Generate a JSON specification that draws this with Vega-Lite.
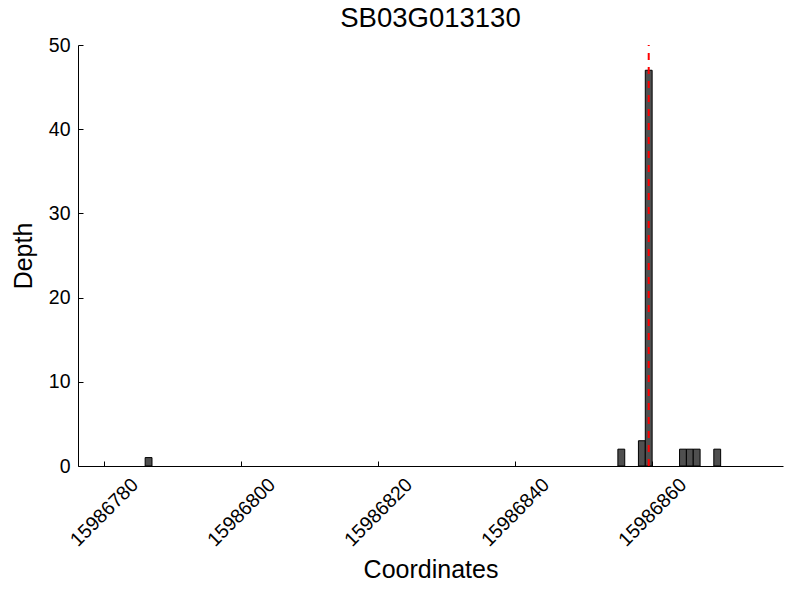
{
  "$schema": "https://vega.github.io/schema/vega-lite/v6.json",
  "width": 705,
  "height": 421,
  "autosize": {"type": "none"},
  "padding": {"left": 78, "top": 45, "right": 17, "bottom": 134},
  "background": "white",
  "config": {
    "view": {"stroke": null},
    "font": "Liberation Sans",
    "axis": {
      "domainColor": "black",
      "tickColor": "black",
      "labelColor": "black",
      "titleColor": "black",
      "grid": false,
      "labelFont": "Liberation Sans",
      "titleFont": "Liberation Sans",
      "titleFontWeight": "normal",
      "labelFontSize": 19.5,
      "titleFontSize": 25,
      "tickSize": -5,
      "domainWidth": 1
    }
  },
  "title": {
    "text": "SB03G013130",
    "fontSize": 27.5,
    "fontWeight": "normal",
    "font": "Liberation Sans",
    "color": "black",
    "offset": 3
  },
  "datasets": {
    "bars": [
      {"start": 15986786, "end": 15986787, "depth": 1},
      {"start": 15986855, "end": 15986856, "depth": 2},
      {"start": 15986858, "end": 15986859, "depth": 3},
      {"start": 15986859, "end": 15986860, "depth": 47},
      {"start": 15986864, "end": 15986865, "depth": 2},
      {"start": 15986865, "end": 15986866, "depth": 2},
      {"start": 15986866, "end": 15986867, "depth": 2},
      {"start": 15986869, "end": 15986870, "depth": 2}
    ],
    "marker": [{"pos": 15986859.5, "y0": 0, "y1": 50}]
  },
  "layer": [
    {
      "data": {"name": "bars"},
      "mark": {"type": "rect", "fill": "#4f4f4f", "stroke": "black", "strokeWidth": 1},
      "encoding": {
        "x": {
          "field": "start",
          "type": "quantitative",
          "scale": {"domain": [15986776.2, 15986879.1], "nice": false, "zero": false},
          "axis": {
            "values": [15986780, 15986800, 15986820, 15986840, 15986860],
            "format": "d",
            "labelAngle": -45,
            "labelAlign": "center",
            "labelBaseline": "middle",
            "labelPadding": 51,
            "title": "Coordinates",
            "titlePadding": 8
          }
        },
        "x2": {"field": "end"},
        "y": {
          "field": "depth",
          "type": "quantitative",
          "scale": {"domain": [0, 50], "nice": false},
          "axis": {
            "values": [0, 10, 20, 30, 40, 50],
            "labelPadding": 13,
            "title": "Depth",
            "titlePadding": 12
          }
        },
        "y2": {"datum": 0}
      }
    },
    {
      "data": {"name": "marker"},
      "mark": {"type": "rule", "color": "red", "strokeWidth": 2, "strokeDash": [7, 7]},
      "encoding": {
        "x": {"field": "pos", "type": "quantitative"},
        "y": {"field": "y0", "type": "quantitative"},
        "y2": {"field": "y1"}
      }
    }
  ]
}
